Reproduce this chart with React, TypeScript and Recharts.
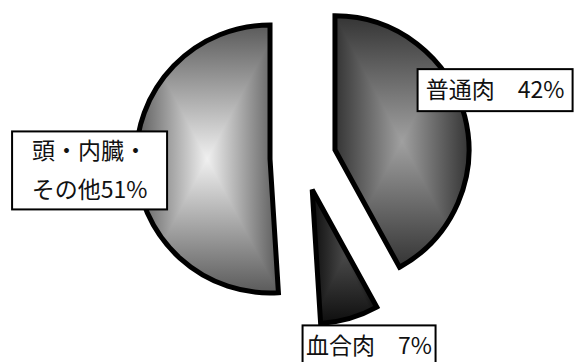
import { PieChart, Pie, Cell, Sector } from "recharts";

// 魚体の部位別割合 (%)
const categories = ["普通肉", "血合肉", "頭・内臓・その他"];
const shares = [42, 7, 51];

const data = categories.map((name, i) => ({ name, value: shares[i] }));

const shades = [
  { id: "shade0", center: "#a0a0a0", edge: "#343434" },
  { id: "shade1", center: "#484848", edge: "#0e0e0e" },
  { id: "shade2", center: "#f0f0f0", edge: "#5a5a5a" },
];

const RAD = Math.PI / 180;
const EXPLODE = 33;
const LABEL_DIST = 1.28;
const labelNudge = [
  [-6, -17],
  [9, -8],
  [-9, 6],
];
const boxWidth = [155, 133, 155];

const offset = (midAngle: number, d: number) => ({
  dx: d * Math.cos(-midAngle * RAD),
  dy: d * Math.sin(-midAngle * RAD),
});

// excel風の「中心から四角形」グラデーション: 横と縦のグラデーションを darken で重ねる
function ExplodedSector(props: any) {
  const { cx, cy, midAngle, innerRadius, outerRadius, startAngle, endAngle } = props;
  const idx = Math.max(0, categories.indexOf(props.payload?.name ?? props.name));
  const id = shades[idx].id;
  const { dx, dy } = offset(midAngle, EXPLODE);
  const geo = {
    cx: cx + dx,
    cy: cy + dy,
    innerRadius,
    outerRadius,
    startAngle,
    endAngle,
  };
  return (
    <g style={{ isolation: "isolate" }}>
      <Sector {...geo} fill={`url(#${id}-h)`} stroke="none" />
      <Sector {...geo} fill={`url(#${id}-v)`} stroke="none" style={{ mixBlendMode: "darken" }} />
      <Sector {...geo} fill="none" stroke="#000" strokeWidth={5} strokeLinejoin="miter" />
    </g>
  );
}

function renderLabel(props: any) {
  const { cx, cy, midAngle, outerRadius, index, percent } = props;
  const name = props.payload?.name ?? props.name;
  const ex = offset(midAngle, EXPLODE);
  const rad = offset(midAngle, outerRadius * LABEL_DIST);
  const x = cx + ex.dx + rad.dx + labelNudge[index][0];
  const y = cy + ex.dy + rad.dy + labelNudge[index][1];
  const pct = `${Math.round(percent * 100)}%`;
  const lines = name.length > 4 ? ["頭・内臓・", `その他${pct}`] : [`${name}　${pct}`];
  const w = boxWidth[index];
  const h = lines.length > 1 ? 78 : 42;
  const lineGap = 39;
  return (
    <g key={`label-${index}`}>
      <rect x={x - w / 2} y={y - h / 2} width={w} height={h} fill="#fff" stroke="#000" strokeWidth={2} />
      {lines.map((line, i) => (
        <text
          key={i}
          x={x}
          y={y + (i - (lines.length - 1) / 2) * lineGap + 8}
          textAnchor="middle"
          fontSize={23}
          fontFamily="'Noto Sans CJK JP', sans-serif"
          fill="#111"
        >
          {line}
        </text>
      ))}
    </g>
  );
}

export default function App() {
  return (
    <div style={{ position: "absolute", left: 0, top: 0, width: 574, height: 362, background: "#fff" }}>
      <PieChart width={574} height={362} margin={{ top: 0, right: 0, bottom: 0, left: 0 }}>
        <defs>
          {shades.map((s) => (
            <linearGradient key={`${s.id}-h`} id={`${s.id}-h`} x1="0" y1="0" x2="1" y2="0">
              <stop offset="0%" stopColor={s.edge} />
              <stop offset="50%" stopColor={s.center} />
              <stop offset="100%" stopColor={s.edge} />
            </linearGradient>
          ))}
          {shades.map((s) => (
            <linearGradient key={`${s.id}-v`} id={`${s.id}-v`} x1="0" y1="0" x2="0" y2="1">
              <stop offset="0%" stopColor={s.edge} />
              <stop offset="50%" stopColor={s.center} />
              <stop offset="100%" stopColor={s.edge} />
            </linearGradient>
          ))}
        </defs>
        <Pie
          data={data}
          dataKey="value"
          nameKey="name"
          cx={303}
          cy={158}
          outerRadius={134}
          startAngle={90}
          endAngle={-270}
          stroke="#000"
          strokeWidth={5}
          shape={ExplodedSector}
          label={renderLabel}
          labelLine={false}
          isAnimationActive={false}
        >
          {data.map((d, i) => (
            <Cell key={d.name} fill={`url(#${shades[i].id}-h)`} />
          ))}
        </Pie>
      </PieChart>
    </div>
  );
}
